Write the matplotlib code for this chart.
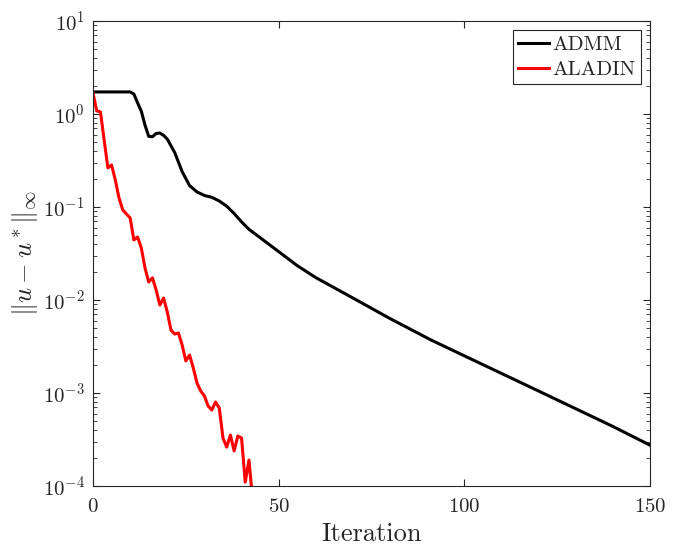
import matplotlib
matplotlib.use("Agg")
import matplotlib.pyplot as plt
import numpy as np

plt.rcParams['font.family'] = 'serif'
plt.rcParams['font.serif'] = ['cmr10']
plt.rcParams['mathtext.fontset'] = 'cm'
plt.rcParams['axes.formatter.use_mathtext'] = True

# ADMM residual
admm_iter = [0, 10, 11, 12, 13, 14, 15, 16, 17, 18, 19, 20, 22, 24, 26, 28, 30,
             32, 34, 36, 38, 40, 42, 45, 50, 55, 60, 70, 80, 91, 100, 120, 140, 150]
admm_err = [1.726, 1.726, 1.64, 1.318, 1.072, 0.759, 0.575, 0.569, 0.617, 0.624,
            0.589, 0.537, 0.385, 0.240, 0.170, 0.145, 0.133, 0.127, 0.116, 0.102,
            0.0851, 0.0692, 0.0575, 0.0468, 0.0331, 0.0234, 0.0174, 0.0105,
            0.00631, 0.00372, 0.00251, 0.00105, 0.000437, 0.000275]

# ALADIN residual, one value per iteration
aladin_err = [1.68, 1.08, 1.05, 0.525, 0.263, 0.283, 0.195, 0.125, 0.093, 0.084,
              0.0762, 0.0442, 0.0475, 0.0363, 0.0221, 0.0156, 0.0173, 0.0128,
              0.00883, 0.0105, 0.00743, 0.00475, 0.0043, 0.00442, 0.00328,
              0.00221, 0.00256, 0.00186, 0.00128, 0.00105, 0.00093, 0.000724,
              0.000656, 0.0008, 0.00069, 0.000328, 0.000262, 0.000353, 0.000238,
              0.000345, 0.000328, 0.00011, 0.00019, 0.00007]
aladin_iter = list(range(len(aladin_err)))

dark = '#262626'

fig = plt.figure(figsize=(6.82, 5.52), dpi=100)
ax = fig.add_axes([0.1364, 0.1196, 0.953 - 0.1364, 0.962 - 0.1196])

ax.semilogy(admm_iter, admm_err, color='black', lw=2.2, label='ADMM')
ax.semilogy(aladin_iter, aladin_err, color='red', lw=2.2, label='ALADIN')

ax.set_xlim(0, 150)
ax.set_ylim(1e-4, 1e1)
ax.set_xticks([0, 50, 100, 150])
ax.set_yticks([1e-4, 1e-3, 1e-2, 1e-1, 1e0, 1e1])
ax.tick_params(which='both', direction='in', top=True, right=True, labelsize=15,
               colors=dark, labelcolor=dark)
ax.tick_params(which='major', length=5, width=0.8)
ax.tick_params(which='minor', length=3, width=0.6)
ax.tick_params(axis='x', pad=9)
ax.tick_params(axis='y', pad=6)
ax.minorticks_on()
ax.xaxis.set_minor_locator(matplotlib.ticker.NullLocator())
for s in ax.spines.values():
    s.set_linewidth(0.8)
    s.set_color(dark)

ax.set_xlabel('Iteration', fontsize=19, color=dark, labelpad=4)
ax.set_ylabel(r'$\|u-u^*\|_\infty$', fontsize=19, color=dark, labelpad=2)

leg = ax.legend(loc='upper right', fontsize=15, frameon=True, fancybox=False,
                edgecolor=dark, framealpha=1, handlelength=1.5,
                handletextpad=0.15, borderpad=0.25, labelspacing=0.3,
                borderaxespad=0.45)
leg.get_frame().set_linewidth(0.8)
for t in leg.get_texts():
    t.set_color(dark)

fig.savefig('out.png', dpi=100)
